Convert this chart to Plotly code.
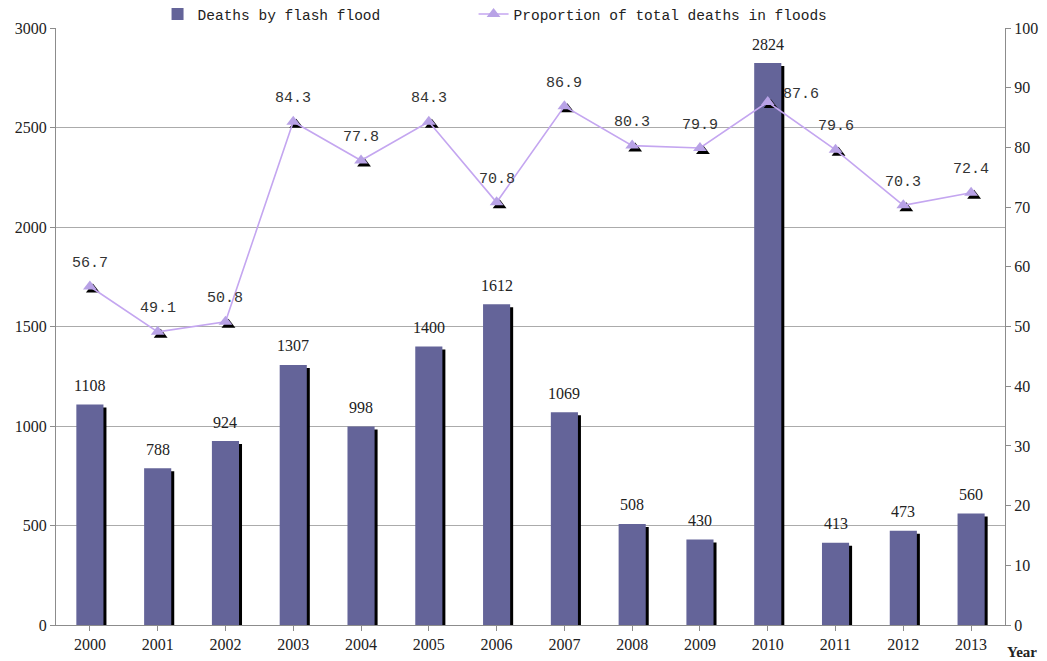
import plotly.graph_objects as go

# Flash-flood deaths in China and their share of all flood deaths
years = ["2000", "2001", "2002", "2003", "2004", "2005", "2006",
         "2007", "2008", "2009", "2010", "2011", "2012", "2013"]
flash_deaths = [1108, 788, 924, 1307, 998, 1400, 1612,
                1069, 508, 430, 2824, 413, 473, 560]
proportion = [56.7, 49.1, 50.8, 84.3, 77.8, 84.3, 70.8,
              86.9, 80.3, 79.9, 87.6, 79.6, 70.3, 72.4]

BAR_COLOR = "#646499"
LINE_COLOR = "#c4a6f0"
MARKER_COLOR = "#b8a2e6"
AXIS_COLOR = "#8c8c8c"
TICK_FONT = dict(family="Liberation Serif", size=16, color="#222222")
LABEL_FONT = dict(family="Liberation Mono", size=15, color="#333333")
LEGEND_FONT = dict(family="Liberation Mono", size=14.5, color="#222222")

W, H = 1047, 661
L, R, T, B = 56, 42, 28, 36
plot_w = W - L - R
plot_h = H - T - B

# drop-shadow offset in pixels, converted into axis units
SHADOW_PX = 3
dx = SHADOW_PX * len(years) / plot_w
dy_left = SHADOW_PX * 3000 / plot_h
dy_right = SHADOW_PX * 100 / plot_h

x_range = [-0.5, len(years) - 0.5]
shadow_x_range = [x_range[0] - dx, x_range[1] - dx]
idx = list(range(len(years)))

fig = go.Figure()

# bar shadows (bottom layer)
fig.add_trace(go.Bar(
    x=idx, y=flash_deaths, width=0.4,
    marker=dict(color="#000000", line=dict(width=0)),
    xaxis="x", yaxis="y", showlegend=False, hoverinfo="skip"))

# bars
fig.add_trace(go.Bar(
    x=idx, y=flash_deaths, width=0.4,
    name="Deaths by flash flood",
    marker=dict(color=BAR_COLOR, line=dict(width=0)),
    xaxis="x2", yaxis="y2", legend="legend"))

# marker shadows for the proportion line
fig.add_trace(go.Scatter(
    x=idx, y=proportion, mode="markers",
    marker=dict(symbol="triangle-up", size=12, color="#000000"),
    xaxis="x3", yaxis="y3", showlegend=False, hoverinfo="skip"))

# proportion line
fig.add_trace(go.Scatter(
    x=idx, y=proportion, mode="lines+markers",
    name="Proportion of total deaths in floods",
    line=dict(color=LINE_COLOR, width=1.6),
    marker=dict(symbol="triangle-up", size=12, color=MARKER_COLOR),
    xaxis="x4", yaxis="y4", legend="legend2"))

# value labels above the bars
annotations = []
for i, v in zip(idx, flash_deaths):
    annotations.append(dict(
        x=i, y=v, xref="x2", yref="y2", text=str(v), showarrow=False,
        xanchor="center", yanchor="middle", yshift=19, font=TICK_FONT))

# value labels above the line markers
for i, (year, p) in enumerate(zip(years, proportion)):
    xs, ys = (33, 8) if year == "2010" else (0, 23)
    annotations.append(dict(
        x=i, y=p, xref="x4", yref="y4", text=f"{p:.1f}", showarrow=False,
        xanchor="center", yanchor="middle", xshift=xs, yshift=ys,
        font=LABEL_FONT))

annotations.append(dict(
    text="<b>Year</b>", xref="paper", yref="paper",
    x=1.0, y=-0.045, xanchor="left", yanchor="middle", showarrow=False,
    font=dict(family="Liberation Serif", size=15, color="#222222")))

hidden = dict(visible=False, showgrid=False, zeroline=False, fixedrange=True)
legend_common = dict(
    orientation="h", y=1 + 14 / plot_h, xanchor="left", yanchor="middle",
    font=LEGEND_FONT, bgcolor="rgba(0,0,0,0)", itemwidth=30)

fig.update_layout(
    width=W, height=H,
    margin=dict(l=L, r=R, t=T, b=B, autoexpand=False),
    paper_bgcolor="white", plot_bgcolor="white",
    barmode="overlay",
    font=TICK_FONT,
    xaxis=dict(range=shadow_x_range, **hidden),
    yaxis=dict(range=[dy_left, 3000 + dy_left], **hidden),
    xaxis2=dict(
        overlaying="x", range=x_range,
        tickmode="array", tickvals=idx, ticktext=years,
        ticks="outside", ticklen=5, tickcolor=AXIS_COLOR,
        tickson="boundaries",
        showline=True, linecolor=AXIS_COLOR, linewidth=1,
        showgrid=False, zeroline=False, tickfont=TICK_FONT),
    yaxis2=dict(
        overlaying="y", side="left", range=[0, 3000], dtick=500,
        ticks="outside", ticklen=5, tickcolor=AXIS_COLOR,
        showline=True, linecolor=AXIS_COLOR, linewidth=1,
        showgrid=True, gridcolor="#ababab", gridwidth=1,
        zeroline=False, tickfont=TICK_FONT),
    xaxis3=dict(overlaying="x", range=shadow_x_range, **hidden),
    yaxis3=dict(overlaying="y", range=[dy_right, 100 + dy_right], **hidden),
    xaxis4=dict(overlaying="x", range=x_range, **hidden),
    yaxis4=dict(
        overlaying="y", side="right", range=[0, 100], dtick=10,
        ticks="outside", ticklen=5, tickcolor=AXIS_COLOR,
        showline=True, linecolor=AXIS_COLOR, linewidth=1,
        showgrid=False, zeroline=False, tickfont=TICK_FONT),
    legend=dict(x=0.107, **legend_common),
    legend2=dict(x=0.44, **legend_common),
    annotations=annotations,
)

fig.write_html("out.html")
